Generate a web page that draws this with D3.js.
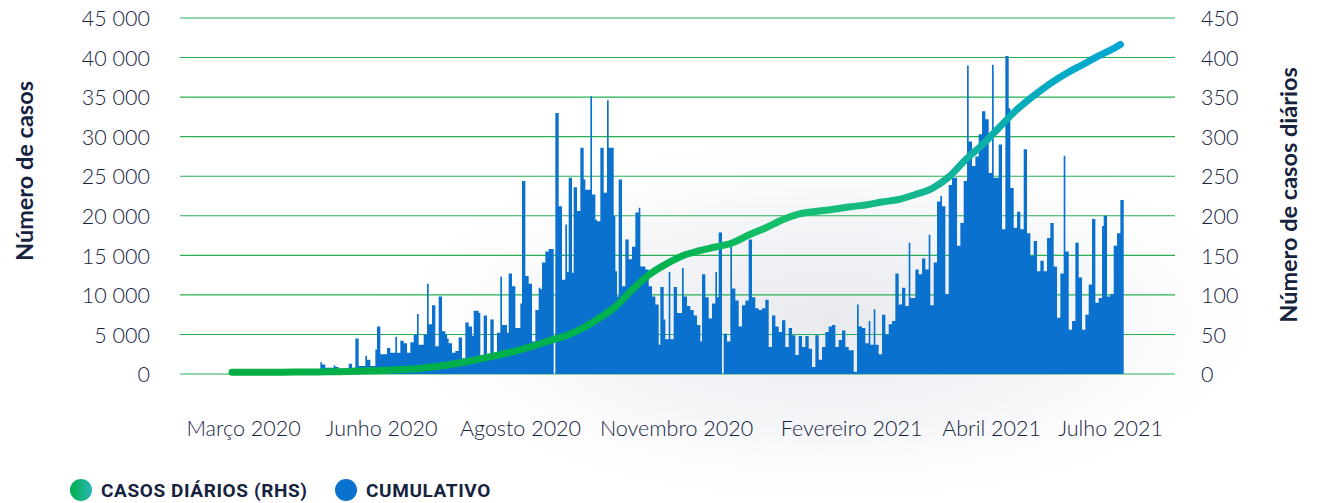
<!DOCTYPE html>
<html><head><meta charset="utf-8">
<script src="https://cdn.jsdelivr.net/npm/d3@7"></script>
<style>body{margin:0;background:#fff;}svg{display:block;}</style>
</head><body>
<svg id="chart" width="1321" height="503"></svg>
<script>
// ---- data ----
const leftTicks = [0, 5000, 10000, 15000, 20000, 25000, 30000, 35000, 40000, 45000];
const rightTicks = [0, 50, 100, 150, 200, 250, 300, 350, 400, 450];
const xTickLabels = ["Março 2020", "Junho 2020", "Agosto 2020", "Novembro 2020", "Fevereiro 2021", "Abril 2021", "Julho 2021"];
const xTickPos = [6.6, 89.4, 172.8, 266.4, 371.4, 455.4, 526.8];   // day index of each label
const dailyStart = 53;   // day index of first daily value
const dailyCases = [
15,12,12,8,8,8,8,
8,11,9,9,6,6,6,6,6,6,
13,13,8,8,45,45,10,10,10,10,
23,18,18,10,10,10,31,60,60,25,
25,25,25,33,33,27,27,27,47,27,
27,42,42,39,39,27,27,40,40,50,
50,76,37,37,37,50,50,114,63,63,
87,87,35,35,98,98,54,54,50,45,
39,39,27,27,29,29,46,46,20,20,
65,65,60,60,48,80,80,80,77,22,
22,74,74,22,22,69,69,24,24,52,
52,123,62,62,62,52,127,127,111,111,
58,58,58,89,244,244,124,124,114,114,
41,41,81,81,109,107,141,141,155,155,
158,158,158,0,330,330,212,212,119,119,
189,129,248,248,128,236,236,206,206,286,
286,246,233,233,233,351,227,227,195,193,
193,286,286,229,229,346,286,286,286,200,
130,98,246,246,111,111,170,170,145,145,
161,161,204,204,210,136,136,136,132,132,
111,111,98,98,88,88,37,110,110,69,
44,44,129,44,44,110,110,77,77,77,
134,98,98,86,86,81,81,74,74,62,
62,41,126,126,97,97,70,70,89,89,
129,97,179,179,0,51,51,41,41,161,
108,108,93,93,60,60,87,87,93,93,
170,170,97,97,83,83,81,81,83,83,
94,94,34,34,74,74,60,60,53,53,
68,68,34,34,58,58,49,49,24,24,
48,48,34,34,48,48,32,32,9,9,
49,49,18,18,34,34,53,53,60,60,
62,62,34,34,43,43,55,55,34,34,
30,30,30,3,3,88,60,60,58,58,
39,39,67,37,37,82,37,37,25,25,
75,75,50,50,63,63,67,67,127,127,
88,88,109,109,86,86,166,96,96,96,
132,132,126,126,146,146,132,132,176,87,
87,141,141,218,218,225,212,212,101,101,
239,239,248,248,248,162,162,191,191,244,
244,390,294,294,263,263,275,275,303,303,
332,332,322,322,254,254,391,248,248,248,
290,290,183,183,402,402,336,235,235,185,
185,205,205,183,183,284,284,178,178,149,
149,168,168,130,130,143,143,130,130,172,
172,191,191,136,136,71,71,127,127,276,
155,155,56,56,67,67,166,166,122,122,
56,56,75,75,113,113,196,196,90,90,
96,96,187,200,200,98,98,101,101,162,
162,178,178,220,220
];
const cumulativeDay = [0,10,20,30,40,50,60,70,80,90,100,110,120,130,140,150,160,170,180,190,200,210,220,230,240,250,260,270,280,290,300,310,320,330,340,350,360,370,380,390,400,410,420,430,440,450,460,470,480,490,500,510,520,530,533];
const cumulativeCases = [215,215,215,230,250,250,280,320,380,440,570,660,885,1180,1520,1960,2400,2900,3480,4170,4800,5750,7020,8500,10620,12510,13840,14920,15550,16050,16560,17570,18450,19470,20220,20540,20790,21110,21360,21740,22060,22690,23450,24900,27050,28950,31090,33240,35010,36590,37920,39060,40200,41270,41650];
const legendLabels = ["CASOS DIÁRIOS (RHS)", "CUMULATIVO"];

// ---- layout ----
const plot = {left: 180, right: 1175, top: 18, bottom: 374};
const navy = "#16233f";
const svg = d3.select("#chart");
const defs = svg.append("defs");

const totalDays = 535;
const x = d3.scaleLinear().domain([0, totalDays]).range([232, 1123.7]);
const yL = d3.scaleLinear().domain([0, 45000]).range([plot.bottom, plot.top]);
const yR = d3.scaleLinear().domain([0, 450]).range([plot.bottom, plot.top]);

// soft background shadow
const rg = defs.append("radialGradient").attr("id", "shadow");
rg.append("stop").attr("offset", "0%").attr("stop-color", "#e4e6eb").attr("stop-opacity", 0.85);
rg.append("stop").attr("offset", "55%").attr("stop-color", "#eceef2").attr("stop-opacity", 0.55);
rg.append("stop").attr("offset", "100%").attr("stop-color", "#ffffff").attr("stop-opacity", 0);
svg.append("ellipse").attr("cx", 830).attr("cy", 320).attr("rx", 470).attr("ry", 200).attr("fill", "url(#shadow)");

// gridlines
svg.append("g").selectAll("line").data(leftTicks).join("line")
  .attr("x1", plot.left).attr("x2", plot.right)
  .attr("y1", d => yL(d)).attr("y2", d => yL(d))
  .attr("stroke", "#27b052").attr("stroke-width", 1.1);

// axes
const fmt = d3.formatLocale({decimal: ",", thousands: "\u00a0", grouping: [3], currency: ["", ""]}).format(",d");
const axisFont = "Lato, 'Open Sans', sans-serif";
function styleTicks(g) {
  g.select(".domain").remove();
  g.selectAll("text").attr("font-family", axisFont).attr("font-weight", 300)
    .attr("font-size", 21.5).attr("fill", navy);
}
const gL = svg.append("g").attr("transform", "translate(150,0)")
  .call(d3.axisLeft(yL).tickValues(leftTicks).tickFormat(fmt).tickSize(0).tickPadding(0));
styleTicks(gL); gL.selectAll("text").attr("dy", "0.36em");

const gR = svg.append("g").attr("transform", "translate(1201,0)")
  .call(d3.axisRight(yR).tickValues(rightTicks).tickSize(0).tickPadding(0));
styleTicks(gR); gR.selectAll("text").attr("dy", "0.36em");

const gX = svg.append("g").attr("transform", `translate(0,${plot.bottom})`)
  .call(d3.axisBottom(x).tickValues(xTickPos).tickFormat((d, i) => xTickLabels[i]).tickSize(0).tickPadding(0));
styleTicks(gX); gX.selectAll("text").attr("dy", null).attr("y", 62);

// axis titles
svg.append("text").attr("transform", "translate(33,171) rotate(-90)")
  .attr("text-anchor", "middle").attr("font-family", axisFont).attr("font-weight", 700)
  .attr("font-size", 23.5).attr("fill", navy).text("Número de casos");
svg.append("text").attr("transform", "translate(1297,195) rotate(-90)")
  .attr("text-anchor", "middle").attr("font-family", axisFont).attr("font-weight", 700)
  .attr("font-size", 23.5).attr("fill", navy).text("Número de casos diários");

// daily bars (stepped area)
const dailyPts = dailyCases.map((v, k) => ({d: dailyStart + k, v}));
dailyPts.push({d: dailyStart + dailyCases.length, v: dailyCases[dailyCases.length - 1]});
const area = d3.area().curve(d3.curveStepAfter)
  .x(p => x(p.d)).y0(yR(0)).y1(p => yR(p.v));
svg.append("path").datum(dailyPts).attr("d", area).attr("fill", "#0a71cf");

// cumulative line with gradient
const lg = defs.append("linearGradient").attr("id", "lineGrad")
  .attr("gradientUnits", "userSpaceOnUse").attr("x1", x(0)).attr("x2", x(533)).attr("y1", 0).attr("y2", 0);
[["0%", "#00ad45"], ["50%", "#02b350"], ["62%", "#16c06d"], ["80%", "#12b596"], ["90%", "#07abbd"], ["100%", "#00a7d3"]]
  .forEach(([o, c]) => lg.append("stop").attr("offset", o).attr("stop-color", c));
const line = d3.line().curve(d3.curveMonotoneX).x((d, i) => x(cumulativeDay[i])).y(d => yL(d));
svg.append("path").datum(cumulativeCases).attr("d", line).attr("fill", "none")
  .attr("stroke", "url(#lineGrad)").attr("stroke-width", 7).attr("stroke-linecap", "round").attr("stroke-linejoin", "round");

// legend
const cg = defs.append("linearGradient").attr("id", "legGrad");
cg.append("stop").attr("offset", "0%").attr("stop-color", "#00b04a");
cg.append("stop").attr("offset", "100%").attr("stop-color", "#2ab6b6");
const legend = svg.append("g").attr("transform", "translate(0,490)");
const legFont = {family: "Roboto, sans-serif", size: 19, spacing: 0.6};
legend.append("circle").attr("cx", 81).attr("cy", 0).attr("r", 11).attr("fill", "url(#legGrad)");
legend.append("text").attr("x", 101).attr("y", 0).attr("dy", "0.36em").attr("font-family", legFont.family)
  .attr("font-weight", 700).attr("font-size", legFont.size).attr("letter-spacing", legFont.spacing)
  .attr("fill", navy).text(legendLabels[0]);
legend.append("circle").attr("cx", 346).attr("cy", 0).attr("r", 11).attr("fill", "#0a71cf");
legend.append("text").attr("x", 366).attr("y", 0).attr("dy", "0.36em").attr("font-family", legFont.family)
  .attr("font-weight", 700).attr("font-size", legFont.size).attr("letter-spacing", legFont.spacing)
  .attr("fill", navy).text(legendLabels[1]);
</script>
</body></html>
